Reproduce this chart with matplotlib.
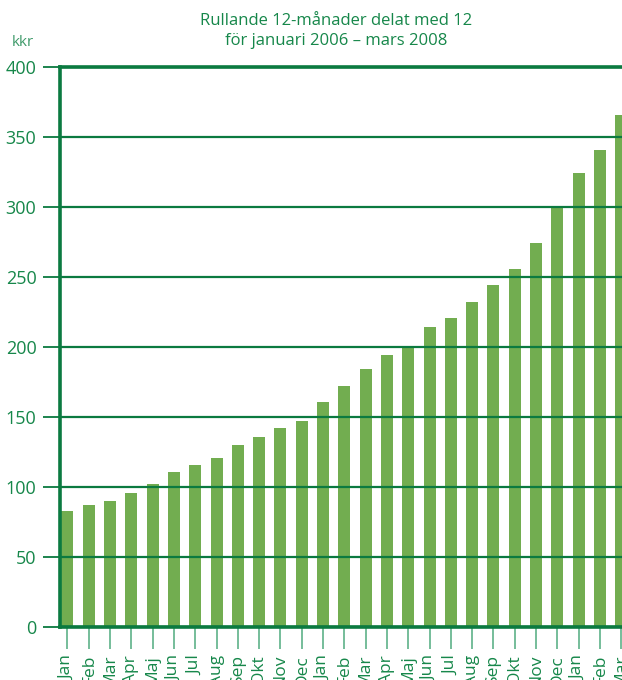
import matplotlib.pyplot as plt

manader = ['Jan', 'Feb', 'Mar', 'Apr', 'Maj', 'Jun', 'Jul', 'Aug', 'Sep', 'Okt', 'Nov', 'Dec',
           'Jan', 'Feb', 'Mar', 'Apr', 'Maj', 'Jun', 'Jul', 'Aug', 'Sep', 'Okt', 'Nov', 'Dec',
           'Jan', 'Feb', 'Mar']
kkr = [83, 87, 90, 96, 102, 111, 116, 121, 130, 136, 142, 147,
       161, 172, 184, 194, 201, 214, 221, 232, 244, 256, 274, 300,
       324, 341, 366]
y_ticks = [0, 50, 100, 150, 200, 250, 300, 350, 400]

text_green = '#16874a'
line_green = '#0b7a40'
bar_green = '#72ad50'

plt.rcParams['font.family'] = ['Open Sans', 'DejaVu Sans']

fig = plt.figure(figsize=(6.22, 6.8), dpi=100)
# axes goes a bit past the right edge, like the original crop
ax = fig.add_axes([60 / 622, 53 / 680, 590 / 622, 560 / 680])

x = list(range(len(kkr)))
ax.bar(x, kkr, width=0.56, color=bar_green, zorder=2)

ax.set_xlim(-0.35, 27.35)
ax.set_ylim(0, 400)

ax.set_yticks(y_ticks)
ax.set_yticklabels([str(v) for v in y_ticks], color=text_green, fontsize=13)
ax.tick_params(axis='y', length=12, width=1.3, color=line_green, pad=5)
ax.yaxis.grid(True, color=line_green, linewidth=1.6, zorder=3)
ax.set_axisbelow(False)

ax.set_xticks(x)
ax.set_xticklabels(manader, rotation=90, color=text_green, fontsize=12.5, va='top')
ax.tick_params(axis='x', length=16, width=1.3, color='#6ab892', pad=4)

for side in ['left', 'top', 'bottom']:
    ax.spines[side].set_color(line_green)
    ax.spines[side].set_linewidth(2.6)
    ax.spines[side].set_zorder(4)
ax.spines['right'].set_visible(False)

fig.text(336 / 622, 1 - 31 / 680, 'Rullande 12-månader delat med 12\nför januari 2006 – mars 2008',
         ha='center', va='center', color=text_green, fontsize=12, linespacing=1.35)
fig.text(12 / 622, 1 - 42 / 680, 'kkr', ha='left', va='center', color='#3f9a6a', fontsize=11)

plt.savefig('out.png')
plt.close()
